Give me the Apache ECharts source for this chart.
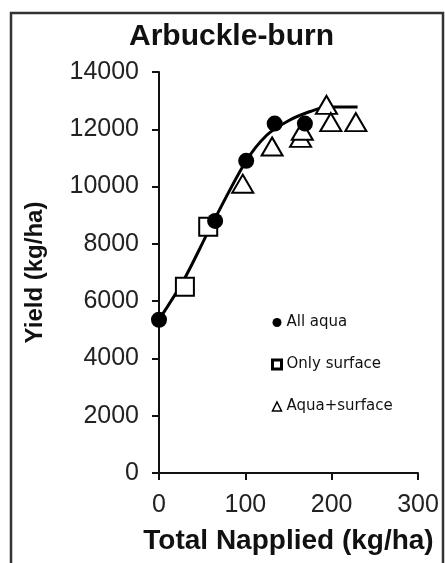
<!DOCTYPE html>
<html lang="en">
<head>
    <meta charset="utf-8">
    <script src="https://cdn.jsdelivr.net/npm/echarts@6/dist/echarts.min.js"></script>
    <style>
        html, body {
            margin: 0;
            padding: 0;
            background: #fff;
        }
        #yield_map {
            width: 445px;
            height: 563px;
        }
    </style>
</head>
<body>
<div id="yield_map"></div>

<script>
    // x = total N applied (kg/ha), y = yield (kg/ha)
    var allAquaN = [0, 65, 101, 134, 169];
    var allAquaYield = [5350, 8800, 10900, 12200, 12200];

    var onlySurfaceN = [30, 57];
    var onlySurfaceYield = [6500, 8600];

    var aquaSurfaceN = [97, 131, 164, 166, 194, 199, 228];
    var aquaSurfaceYield = [10100, 11400, 11700, 11950, 12850, 12250, 12250];

    // fitted response curve
    var fitN = [0, 28, 60, 100, 125, 150, 175, 195, 230];
    var fitYield = [5350, 6700, 8600, 10850, 11800, 12300, 12620, 12780, 12780];

    var xTicks = [0, 100, 200, 300];
    var yTicks = [0, 2000, 4000, 6000, 8000, 10000, 12000, 14000];

    function pairs(xs, ys) {
        var out = [];
        for (var i = 0; i < xs.length; i++) {
            out.push([xs[i], ys[i]]);
        }
        return out;
    }

    var font = '"Liberation Sans", Arial, sans-serif';

    var myChart = echarts.init(document.getElementById('yield_map'));

    var option = {
        backgroundColor: '#fff',
        animation: false,
        title: {
            text: 'Arbuckle-burn',
            left: 124,
            top: 17,
            textStyle: {
                fontFamily: font,
                fontSize: 30,
                fontWeight: 'bold',
                color: '#111'
            }
        },
        graphic: [{
            type: 'rect',
            z: -1,
            shape: {x: 11, y: 13, width: 432, height: 560},
            style: {fill: 'none', stroke: '#333', lineWidth: 2.5}
        }],
        legend: {
            orient: 'vertical',
            left: 266,
            top: 310,
            itemWidth: 9,
            itemHeight: 9,
            itemGap: 27,
            textStyle: {
                fontFamily: '"DejaVu Sans", sans-serif',
                fontSize: 15,
                color: '#111'
            },
            data: [
                {name: 'All aqua'},
                {name: 'Only surface', itemStyle: {color: '#fff', borderColor: '#000', borderWidth: 3}},
                {name: 'Aqua+surface', itemStyle: {color: '#fff', borderColor: '#000', borderWidth: 1.5}}
            ]
        },
        grid: {
            left: 159,
            top: 72,
            right: 27,
            bottom: 90
        },
        xAxis: {
            type: 'value',
            min: xTicks[0],
            max: xTicks[xTicks.length - 1],
            interval: xTicks[1] - xTicks[0],
            name: 'Total Napplied (kg/ha)',
            nameLocation: 'middle',
            nameGap: 54,
            nameTextStyle: {
                fontFamily: font,
                fontSize: 28,
                fontWeight: 'bold',
                color: '#111'
            },
            splitLine: {show: false},
            axisLine: {lineStyle: {color: '#111', width: 2}},
            axisTick: {length: 7, lineStyle: {color: '#111', width: 2}},
            axisLabel: {
                margin: 20,
                fontFamily: font,
                fontSize: 25,
                color: '#222'
            }
        },
        yAxis: {
            type: 'value',
            min: yTicks[0],
            max: yTicks[yTicks.length - 1],
            interval: yTicks[1] - yTicks[0],
            name: 'Yield (kg/ha)',
            nameLocation: 'middle',
            nameGap: 112,
            nameTextStyle: {
                fontFamily: font,
                fontSize: 24,
                fontWeight: 'bold',
                color: '#111'
            },
            splitLine: {show: false},
            axisLine: {show: true, lineStyle: {color: '#111', width: 2}},
            axisTick: {show: true, length: 7, lineStyle: {color: '#111', width: 2}},
            axisLabel: {
                margin: 20,
                fontFamily: font,
                fontSize: 25,
                color: '#222',
                formatter: function (v) { return String(v); }
            }
        },
        series: [{
            name: 'fit',
            type: 'line',
            data: pairs(fitN, fitYield),
            smooth: 0.3,
            showSymbol: false,
            lineStyle: {color: '#000', width: 3},
            z: 2
        }, {
            name: 'Only surface',
            type: 'scatter',
            symbol: 'rect',
            symbolSize: 18,
            data: pairs(onlySurfaceN, onlySurfaceYield),
            itemStyle: {color: '#fff', borderColor: '#000', borderWidth: 2, opacity: 1},
            z: 3
        }, {
            name: 'Aqua+surface',
            type: 'scatter',
            symbol: 'triangle',
            symbolSize: [21, 18],
            data: pairs(aquaSurfaceN, aquaSurfaceYield),
            itemStyle: {color: '#fff', borderColor: '#000', borderWidth: 2, opacity: 1},
            z: 3
        }, {
            name: 'All aqua',
            type: 'scatter',
            symbol: 'circle',
            symbolSize: 16,
            data: pairs(allAquaN, allAquaYield),
            itemStyle: {color: '#000', opacity: 1},
            z: 4
        }]
    };

    myChart.setOption(option);
</script>
</body>
</html>
